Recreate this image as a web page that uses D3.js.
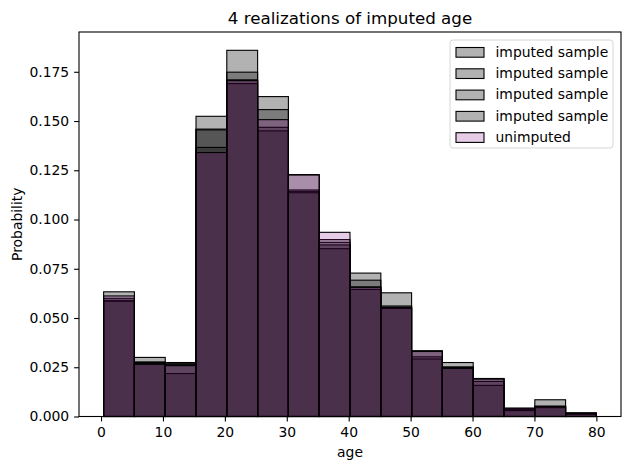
<!DOCTYPE html>
<html>
<head>
<meta charset="utf-8">
<script src="https://cdn.jsdelivr.net/npm/d3@7"></script>
<style>
  body { margin: 0; background: #fff; }
  svg { font-family: "DejaVu Sans", sans-serif; }
</style>
</head>
<body>
<svg id="chart"></svg>
<script>
let width = 630,
  height = 470;

// bin edges of the age histogram (16 bins from 0.42 to 80)
const binEdges = [0.42, 5.39, 10.37, 15.34, 20.31, 25.29, 30.26, 35.24, 40.21,
  45.19, 50.16, 55.13, 60.11, 65.08, 70.06, 75.03, 80.0];

// probability per bin for each imputed realization
const imputed1 = [0.0633, 0.0300, 0.0274, 0.1524, 0.1859, 0.1624, 0.1228, 0.0898,
  0.0728, 0.0628, 0.0334, 0.0274, 0.0193, 0.0042, 0.0085, 0.0019];
const imputed2 = [0.0600, 0.0277, 0.0268, 0.1459, 0.1748, 0.1558, 0.1150, 0.0884,
  0.0692, 0.0561, 0.0331, 0.0252, 0.0190, 0.0035, 0.0053, 0.0017];
const imputed3 = [0.0590, 0.0274, 0.0263, 0.1455, 0.1709, 0.1468, 0.1143, 0.0871,
  0.0658, 0.0555, 0.0303, 0.0248, 0.0178, 0.0032, 0.0050, 0.0014];
const imputed4 = [0.0585, 0.0270, 0.0218, 0.1366, 0.1690, 0.1450, 0.1136, 0.0852,
  0.0645, 0.0549, 0.0292, 0.0245, 0.0158, 0.0030, 0.0045, 0.0012];
// probability per bin of the original (unimputed) ages
const unimputed = [0.0612, 0.0265, 0.0258, 0.1340, 0.1705, 0.1507, 0.1226, 0.0935,
  0.0656, 0.0552, 0.0330, 0.0245, 0.0192, 0.0042, 0.0050, 0.0014];

const xTicks = [0, 10, 20, 30, 40, 50, 60, 70, 80];
const yTicks = [0, 0.025, 0.05, 0.075, 0.1, 0.125, 0.15, 0.175];

const series = [
  { name: "imputed sample", values: imputed1, color: "#000000", alpha: 0.3 },
  { name: "imputed sample", values: imputed2, color: "#000000", alpha: 0.3 },
  { name: "imputed sample", values: imputed3, color: "#000000", alpha: 0.3 },
  { name: "imputed sample", values: imputed4, color: "#000000", alpha: 0.3 },
  { name: "unimputed", values: unimputed, color: "#800080", alpha: 0.2 },
];

let margin = { left: 79, right: 9, top: 32, bottom: 53.5 };

let svg = d3
  .select("#chart")
  .attr("width", width)
  .attr("height", height);

// Scales (matplotlib style 5% padding on x, headroom on y)
let pad = (binEdges[binEdges.length - 1] - binEdges[0]) * 0.05;
let x = d3
  .scaleLinear()
  .domain([binEdges[0] - pad, binEdges[binEdges.length - 1] + pad])
  .range([margin.left, width - margin.right]);

let maxVal = d3.max(series, (s) => d3.max(s.values));
let y = d3
  .scaleLinear()
  .domain([0, maxVal * 1.05])
  .range([height - margin.bottom, margin.top]);

// Bars, one layer per series
series.forEach((s, i) => {
  svg
    .append("g")
    .attr("class", "layer-" + i)
    .selectAll("rect")
    .data(s.values)
    .enter()
    .append("rect")
    .attr("x", (d, j) => x(binEdges[j]))
    .attr("width", (d, j) => x(binEdges[j + 1]) - x(binEdges[j]))
    .attr("y", (d) => y(d))
    .attr("height", (d) => y(0) - y(d))
    .attr("fill", s.color)
    .attr("fill-opacity", s.alpha)
    .attr("stroke", "#000")
    .attr("stroke-width", 1.1);
});

// Axes
let xAxis = svg
  .append("g")
  .attr("transform", "translate(0," + (height - margin.bottom) + ")")
  .call(d3.axisBottom(x).tickValues(xTicks).tickSize(4.9).tickPadding(5.5));

let yAxis = svg
  .append("g")
  .attr("transform", "translate(" + margin.left + ",0)")
  .call(
    d3.axisLeft(y).tickValues(yTicks).tickFormat(d3.format(".3f")).tickSize(4.9).tickPadding(4.9)
  );

[xAxis, yAxis].forEach((a) => {
  a.select(".domain").remove();
  a.selectAll("line").attr("stroke", "#000").attr("stroke-width", 1.1);
  a.selectAll("text")
    .attr("fill", "#000")
    .style("font-size", "13.9px")
    .style("font-family", "DejaVu Sans");
});

// Frame
svg
  .append("rect")
  .attr("x", margin.left)
  .attr("y", margin.top)
  .attr("width", width - margin.left - margin.right)
  .attr("height", height - margin.top - margin.bottom)
  .attr("fill", "none")
  .attr("stroke", "#000")
  .attr("stroke-width", 1.1);

// Title and labels
svg
  .append("text")
  .attr("x", (margin.left + width - margin.right) / 2)
  .attr("y", 23.5)
  .attr("text-anchor", "middle")
  .style("font-size", "16.7px")
  .text("4 realizations of imputed age");

svg
  .append("text")
  .attr("x", (margin.left + width - margin.right) / 2)
  .attr("y", 457)
  .attr("text-anchor", "middle")
  .style("font-size", "13.9px")
  .text("age");

svg
  .append("text")
  .attr("transform", "translate(22," + (margin.top + height - margin.bottom) / 2 + ") rotate(-90)")
  .attr("text-anchor", "middle")
  .style("font-size", "13.9px")
  .text("Probability");

// Legend
let legend = svg.append("g").attr("transform", "translate(450,40)");
legend
  .append("rect")
  .attr("width", 163)
  .attr("height", 108)
  .attr("rx", 3)
  .attr("fill", "#fff")
  .attr("fill-opacity", 0.8)
  .attr("stroke", "#d6d6d6")
  .attr("stroke-width", 1);

let items = legend
  .selectAll("g.item")
  .data(series)
  .enter()
  .append("g")
  .attr("class", "item")
  .attr("transform", (d, i) => "translate(0," + (11.7 + i * 21.3) + ")");

items
  .append("rect")
  .attr("x", 6)
  .attr("y", -4.2)
  .attr("width", 28)
  .attr("height", 9.7)
  .attr("fill", (d) => d.color)
  .attr("fill-opacity", (d) => d.alpha)
  .attr("stroke", "#000")
  .attr("stroke-width", 1.1);

items
  .append("text")
  .attr("x", 45.5)
  .attr("y", 5)
  .style("font-size", "13.9px")
  .text((d) => d.name);
</script>
</body>
</html>
